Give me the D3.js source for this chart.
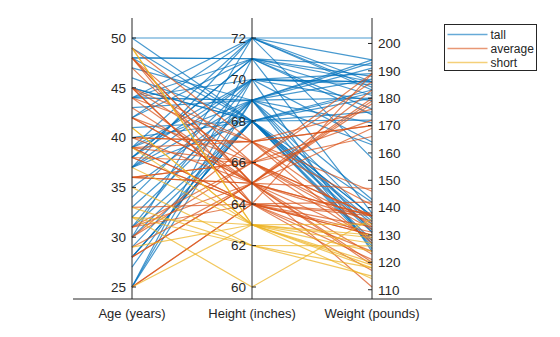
<!DOCTYPE html>
<html>
<head>
<meta charset="utf-8">
<script src="https://cdn.jsdelivr.net/npm/d3@7"></script>
<style>
  body { margin: 0; background: #fff; }
  svg text { font-family: "Liberation Sans", Arial, Helvetica, sans-serif; fill: #262626; }
</style>
</head>
<body>
<div id="chart"></div>
<script>
// patient measurements, one entry per person
const age = [38,43,38,40,49,46,33,40,28,31,45,42,25,39,36,48,32,27,37,50,
  48,39,41,44,28,25,39,25,36,30,45,40,25,47,44,48,44,35,33,38,
  39,44,44,37,45,37,30,39,42,42,49,44,43,47,50,38,41,45,36,38,
  29,28,30,28,29,36,45,32,31,48,25,40,39,41,33,31,31,42,35,32,
  42,48,34,39,28,29,32,39,37,49,31,37,38,45,30,48,48,25,44,49];
const height = [71,69,64,67,63,68,64,68,68,66,68,66,71,72,65,71,69,69,70,68,
  64,64,68,67,65,64,69,63,66,66,68,65,64,69,69,66,71,62,69,66,
  70,72,65,72,66,68,68,64,72,65,67,69,65,65,72,70,63,67,65,64,
  63,68,67,65,68,66,64,60,64,68,70,67,67,63,62,65,68,65,69,62,
  71,71,70,63,68,65,63,66,69,63,70,63,71,64,72,65,65,69,70,68];
const weight = [176,163,131,133,119,142,142,180,183,132,128,137,174,202,129,181,191,131,179,172,
  133,117,137,146,123,189,143,114,166,186,126,137,138,187,193,137,192,118,180,128,
  164,183,169,194,172,135,182,121,158,179,170,136,135,147,186,124,134,170,180,130,
  130,127,141,111,134,189,137,136,130,137,186,127,176,127,115,178,131,183,194,126,
  186,188,189,120,132,137,124,134,171,118,186,129,138,124,184,120,119,125,185,175];

const dims = ["Age (years)", "Height (inches)", "Weight (pounds)"];
const groups = ["tall", "average", "short"];
const colors = ["#0072BD", "#D95319", "#EDB120"];
const ageTicks = [25, 30, 35, 40, 45, 50];
const heightTicks = [60, 62, 64, 66, 68, 70, 72];
const weightTicks = [110, 120, 130, 140, 150, 160, 170, 180, 190, 200];

// tall >= 68 in, short < 64 in
function groupOf(h) { return h >= 68 ? "tall" : (h >= 64 ? "average" : "short"); }

const W = 560, H = 337;
const svg = d3.select("#chart").append("svg").attr("width", W).attr("height", H);

const x = d3.scalePoint().domain(dims).range([132, 372]);
const columns = [age, height, weight];
const yScales = columns.map(c => d3.scaleLinear().domain(d3.extent(c)).range([287, 38]));
const color = d3.scaleOrdinal().domain(groups).range(colors);

const rows = age.map((a, i) => ({ vals: [a, height[i], weight[i]], g: groupOf(height[i]) }));

const line = d3.line().x((d, j) => x(dims[j])).y((d, j) => yScales[j](d));

const lines = svg.append("g").attr("fill", "none").attr("stroke-width", 1.2).attr("stroke-opacity", 0.72);
groups.forEach(g => {
  lines.append("g").attr("stroke", color(g))
    .selectAll("path")
    .data(rows.filter(r => r.g === g))
    .join("path")
    .attr("d", r => line(r.vals));
});

// x axis baseline and labels
svg.append("line").attr("x1", 73).attr("x2", 432).attr("y1", 299).attr("y2", 299)
  .attr("stroke", "#262626").attr("stroke-width", 1);
svg.selectAll(".xlab").data(dims).join("text")
  .attr("class", "xlab")
  .attr("x", d => x(d)).attr("y", 318)
  .attr("text-anchor", "middle").style("font-size", "13px")
  .text(d => d);

// vertical axes
const tickSets = [ageTicks, heightTicks, weightTicks];
dims.forEach((d, j) => {
  const g = svg.append("g").attr("transform", `translate(${x(d)},0)`);
  const ax = j === 2 ? d3.axisRight(yScales[j]) : d3.axisLeft(yScales[j]);
  g.call(ax.tickValues(tickSets[j]).tickSize(0).tickPadding(6));
  g.select(".domain").remove();
  g.selectAll("text").style("font-size", "13.5px").attr("fill", "#262626");
  g.append("line").attr("y1", 18).attr("y2", 299).attr("stroke", "#262626");
  const dir = j === 2 ? -1 : 1;
  g.selectAll(".tk").data(tickSets[j]).join("line")
    .attr("x1", 0).attr("x2", 4 * dir)
    .attr("y1", t => yScales[j](t)).attr("y2", t => yScales[j](t))
    .attr("stroke", "#262626");
});

// legend
const leg = svg.append("g").attr("transform", "translate(444.5,24.5)");
leg.append("rect").attr("width", 92).attr("height", 46)
  .attr("fill", "#fff").attr("stroke", "#262626");
groups.forEach((g, i) => {
  const yy = 10 + i * 14;
  leg.append("line").attr("x1", 3).attr("x2", 43).attr("y1", yy).attr("y2", yy)
    .attr("stroke", color(g)).attr("stroke-opacity", 0.6).attr("stroke-width", 1.5);
  leg.append("text").attr("x", 46).attr("y", yy + 4).style("font-size", "12px").text(g);
});
</script>
</body>
</html>
